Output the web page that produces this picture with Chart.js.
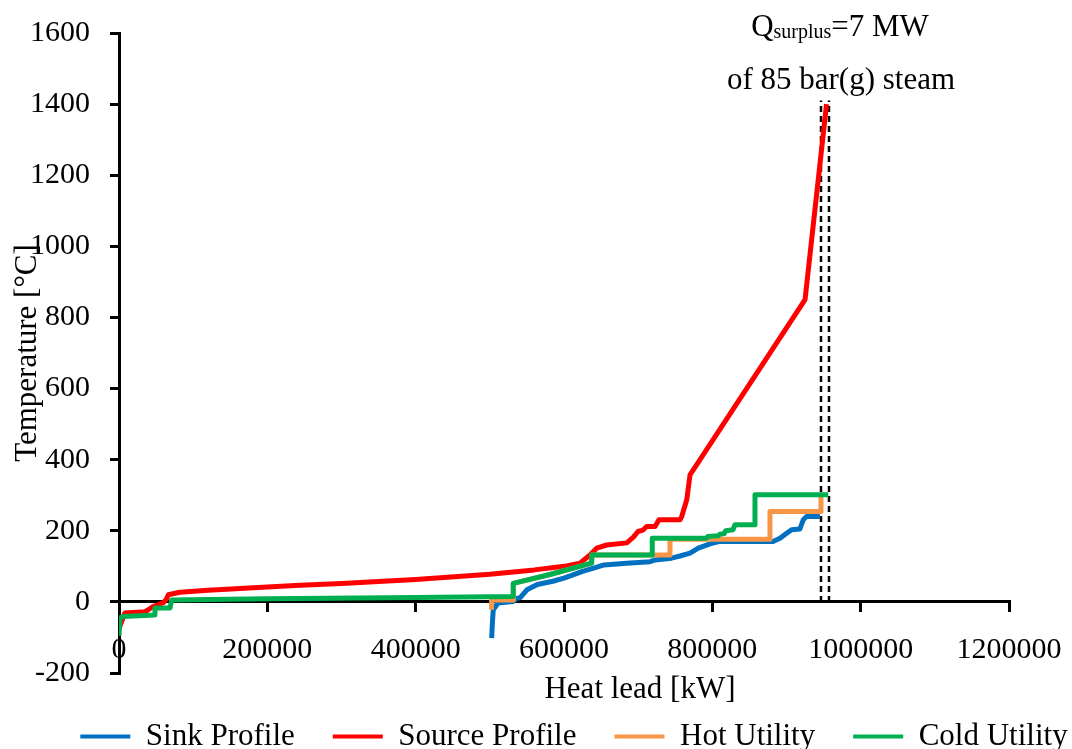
<!DOCTYPE html>
<html>
<head>
<meta charset="UTF-8">
<title>Composite curves</title>
<script src="https://cdn.jsdelivr.net/npm/chart.js"></script>
<style>
  body { margin: 0; background: #fff; }
  #wrap { width: 1072px; height: 749px; }
</style>
</head>
<body>
<div id="wrap"><canvas id="chart"></canvas></div>
<script>
  // heat load [kW] / temperature [°C]
  const sinkQ = [502500, 503300, 504600, 511000, 531200, 536200, 541000, 550000, 564000, 585000, 600000, 625000, 640000, 654000, 684500, 716000, 722700, 745000, 756400, 769900, 781100, 796900, 810400, 881800, 891200, 900200, 906900, 918100, 922600, 927100, 945000];
  const sinkT = [-102, -65, -22, -3, 1, 10, 12, 34, 49, 58, 67, 86, 95, 104, 109, 113, 118, 123, 129, 137, 151, 163, 170, 170, 179, 193, 203, 205, 231, 240, 240];

  const sourceQ = [0, 8000, 35000, 46000, 59800, 64000, 66500, 82000, 120000, 200000, 244000, 300000, 400000, 500000, 560000, 600000, 621600, 635000, 644000, 657600, 684600, 693500, 699800, 706500, 711500, 722700, 728100, 756400, 758700, 765500, 769900, 925000, 954000];
  const sourceT = [-75, -31, -28, -13, -2, 8, 20, 27, 33, 42, 47, 52, 63, 78, 90, 100, 109, 132, 151, 160, 166, 182, 198, 202, 212, 212, 231, 231, 240, 287, 357, 850, 1400];

  const hotQ = [502300, 502300, 531600, 531600, 581000, 637300, 637300, 742900, 742900, 877700, 877700, 946500, 946500];
  const hotT = [-22, 5, 5, 52, 77, 109, 132, 132, 176, 176, 254, 254, 296];

  const coldQ = [0, 1500, 5700, 48500, 48500, 68800, 71000, 200000, 400000, 531600, 531600, 581000, 637300, 637300, 719000, 719000, 792000, 794000, 808000, 810000, 816000, 818000, 828000, 830500, 857500, 857500, 956300];
  const coldT = [-95, -45, -41, -37, -17, -17, 5, 9, 12, 15, 52, 77, 109, 132, 132, 179, 179, 184, 186, 190, 192, 200, 203, 217, 217, 301, 301];

  // surplus markers (two dashed verticals)
  const surplusQ = [946500, 957300];
  const surplusT = [0, 1410];

  const FONT = 'Liberation Serif';
  Chart.defaults.font.family = FONT;
  Chart.defaults.color = '#000';

  function pts(qs, ts) {
    return qs.map((q, i) => ({ x: q, y: ts[i] }));
  }

  const notes = {
    id: 'notes',
    afterLayout(chart) {
      // legend sits a bit right and lower than Chart.js centres it
      const lg = chart.legend;
      lg.left += 38; lg.right += 38;
      lg.top += 10; lg.bottom += 10;
    },
    afterDraw(chart) {
      const ctx = chart.ctx;
      ctx.save();
      ctx.fillStyle = '#000';

      ctx.font = '31px "' + FONT + '"';
      ctx.textAlign = 'center';
      ctx.textBaseline = 'middle';
      ctx.fillText('Heat lead [kW]', 640, 690);

      ctx.textBaseline = 'alphabetic';
      ctx.fillText('of 85 bar(g) steam', 841, 89);

      // Q_surplus = 7 MW
      const big = '31px "' + FONT + '"', small = '20px "' + FONT + '"';
      ctx.textAlign = 'left';
      ctx.font = big; const wQ = ctx.measureText('Q').width, wR = ctx.measureText('=7 MW').width;
      ctx.font = small; const wS = ctx.measureText('surplus').width;
      let x = 840 - (wQ + wS + wR) / 2;
      ctx.font = big; ctx.fillText('Q', x, 36); x += wQ;
      ctx.font = small; ctx.fillText('surplus', x, 38); x += wS;
      ctx.font = big; ctx.fillText('=7 MW', x, 36);
      ctx.restore();
    }
  };

  new Chart(document.getElementById('chart'), {
    type: 'line',
    data: {
      datasets: [
        { label: 'Sink Profile', data: pts(sinkQ, sinkT), borderColor: '#0070C0', backgroundColor: '#0070C0', borderWidth: 5, order: 3 },
        { label: 'Source Profile', data: pts(sourceQ, sourceT), borderColor: '#FF0000', backgroundColor: '#FF0000', borderWidth: 5, order: 2 },
        { label: 'Hot Utility', data: pts(hotQ, hotT), borderColor: '#F79646', backgroundColor: '#F79646', borderWidth: 5, order: 1 },
        { label: 'Cold Utility', data: pts(coldQ, coldT), borderColor: '#00B050', backgroundColor: '#00B050', borderWidth: 5, order: 0 },
        { label: 'surplus1', data: pts([surplusQ[0], surplusQ[0]], surplusT), borderColor: '#000', borderWidth: 2.5, borderDash: [6, 4], order: 4 },
        { label: 'surplus2', data: pts([surplusQ[1], surplusQ[1]], surplusT), borderColor: '#000', borderWidth: 2.5, borderDash: [6, 4], order: 4 }
      ]
    },
    options: {
      responsive: true,
      maintainAspectRatio: false,
      animation: false,
      elements: {
        point: { radius: 0 },
        line: { tension: 0, borderJoinStyle: 'round' }
      },
      layout: { padding: { top: 33, left: 0, right: 0, bottom: 0 } },
      scales: {
        x: {
          type: 'linear',
          position: { y: 0 },
          min: 0, max: 1200000,
          ticks: { stepSize: 200000, callback: v => String(v), font: { size: 30 }, padding: 21, maxRotation: 0, autoSkip: false },
          grid: { drawOnChartArea: false, color: '#000', lineWidth: 3, tickLength: 9 },
          border: { color: '#000', width: 3 },
          afterFit: s => { s.height = 0; s.paddingLeft = 0; s.paddingRight = 0; }
        },
        y: {
          min: -200, max: 1600,
          ticks: { stepSize: 200, callback: v => String(v), font: { size: 30 }, padding: 20 },
          grid: { drawOnChartArea: false, color: '#000', lineWidth: 3, tickLength: 9 },
          border: { color: '#000', width: 3 },
          title: { display: true, text: 'Temperature [°C]', font: { size: 31 }, padding: { top: 9, bottom: 0 } },
          afterFit: s => { s.width = 119; s.paddingTop = 0; s.paddingBottom = 0; }
        },
        yr: {
          position: 'right',
          min: 0, max: 1,
          ticks: { display: false },
          grid: { display: false },
          border: { display: false },
          afterFit: s => { s.width = 63; }
        }
      },
      plugins: {
        legend: {
          position: 'bottom',
          maxHeight: 76,
          labels: {
            boxWidth: 50, boxHeight: 4, padding: 38,
            font: { size: 31 },
            generateLabels: chart => Chart.defaults.plugins.legend.labels.generateLabels(chart)
              .map(l => Object.assign(l, { lineWidth: 0 })),
            filter: item => item.datasetIndex < 4,
            sort: (a, b) => a.datasetIndex - b.datasetIndex
          }
        },
        tooltip: { enabled: false }
      }
    },
    plugins: [notes]
  });
</script>
</body>
</html>
